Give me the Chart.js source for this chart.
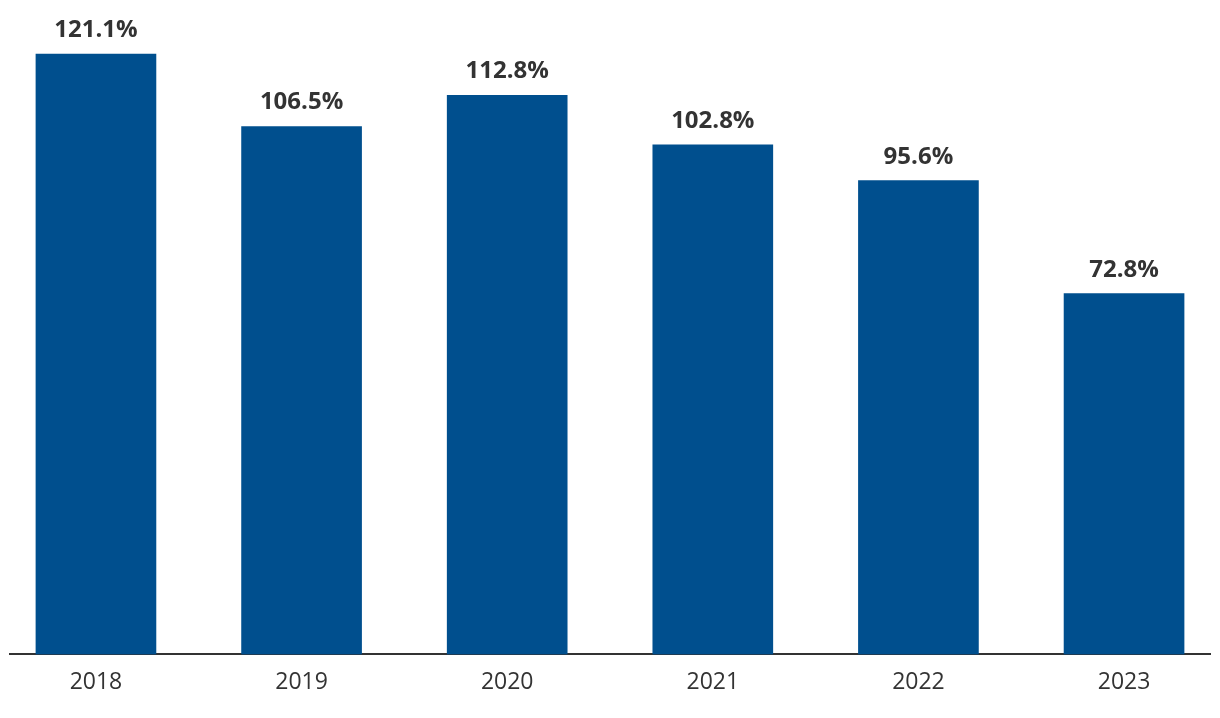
<!DOCTYPE html>
<html>
<head>
<meta charset="utf-8">
<script src="https://cdn.jsdelivr.net/npm/chart.js@4"></script>
<style>
    html, body { margin: 0; padding: 0; background: #ffffff; overflow: hidden; }
    #wrap { width: 1220px; height: 718px; position: relative; }
</style>
</head>
<body>
<div id="wrap"><canvas id="myGraph"></canvas></div>
<script>
"use strict";

const years = ["2018", "2019", "2020", "2021", "2022", "2023"];
const ratios = [121.1, 106.5, 112.8, 102.8, 95.6, 72.8];

const barColor = "#004f8e";
const textColor = "#333333";

// draws the % value above each bar
const valueLabels = {
    id: "valueLabels",
    afterDatasetsDraw(chart) {
        const ctx = chart.ctx;
        const meta = chart.getDatasetMeta(0);
        ctx.save();
        ctx.font = "bold 24px 'Open Sans'";
        ctx.fillStyle = textColor;
        ctx.textAlign = "center";
        ctx.textBaseline = "alphabetic";
        meta.data.forEach(function (bar, i) {
            ctx.fillText(ratios[i].toFixed(1) + "%", bar.x, bar.y - 17);
        });
        ctx.restore();
    },
};

const points = years.map(function (y, i) {
    return { x: i, y: ratios[i] };
});

const data = {
    datasets: [
        {
            label: "Ratio",
            data: points,
            backgroundColor: barColor,
            borderWidth: 0,
            barThickness: 120,
        },
    ],
};

const config = {
    type: "bar",
    data: data,
    options: {
        responsive: true,
        maintainAspectRatio: false,
        animation: false,
        layout: {
            padding: { left: 10, right: 10, top: 10, bottom: 8 },
        },
        plugins: {
            legend: { display: false },
            tooltip: { enabled: false },
        },
        scales: {
            x: {
                type: "linear",
                bounds: "data",
                offset: false,
                min: -0.418,
                max: 5.418,
                afterBuildTicks(scale) {
                    scale.ticks = years.map(function (y, i) {
                        return { value: i };
                    });
                },
                grid: { display: false, drawTicks: false },
                border: { display: true, color: "#333333", width: 2 },
                ticks: {
                    padding: 14,
                    color: textColor,
                    font: { family: "'Open Sans'", size: 23 },
                    maxRotation: 0,
                    autoSkip: false,
                    callback: function (value) {
                        return years[value];
                    },
                },
            },
            y: {
                display: false,
                min: 0,
                max: 130,
            },
        },
    },
    plugins: [valueLabels],
};

new Chart(document.getElementById("myGraph"), config);
</script>
</body>
</html>
